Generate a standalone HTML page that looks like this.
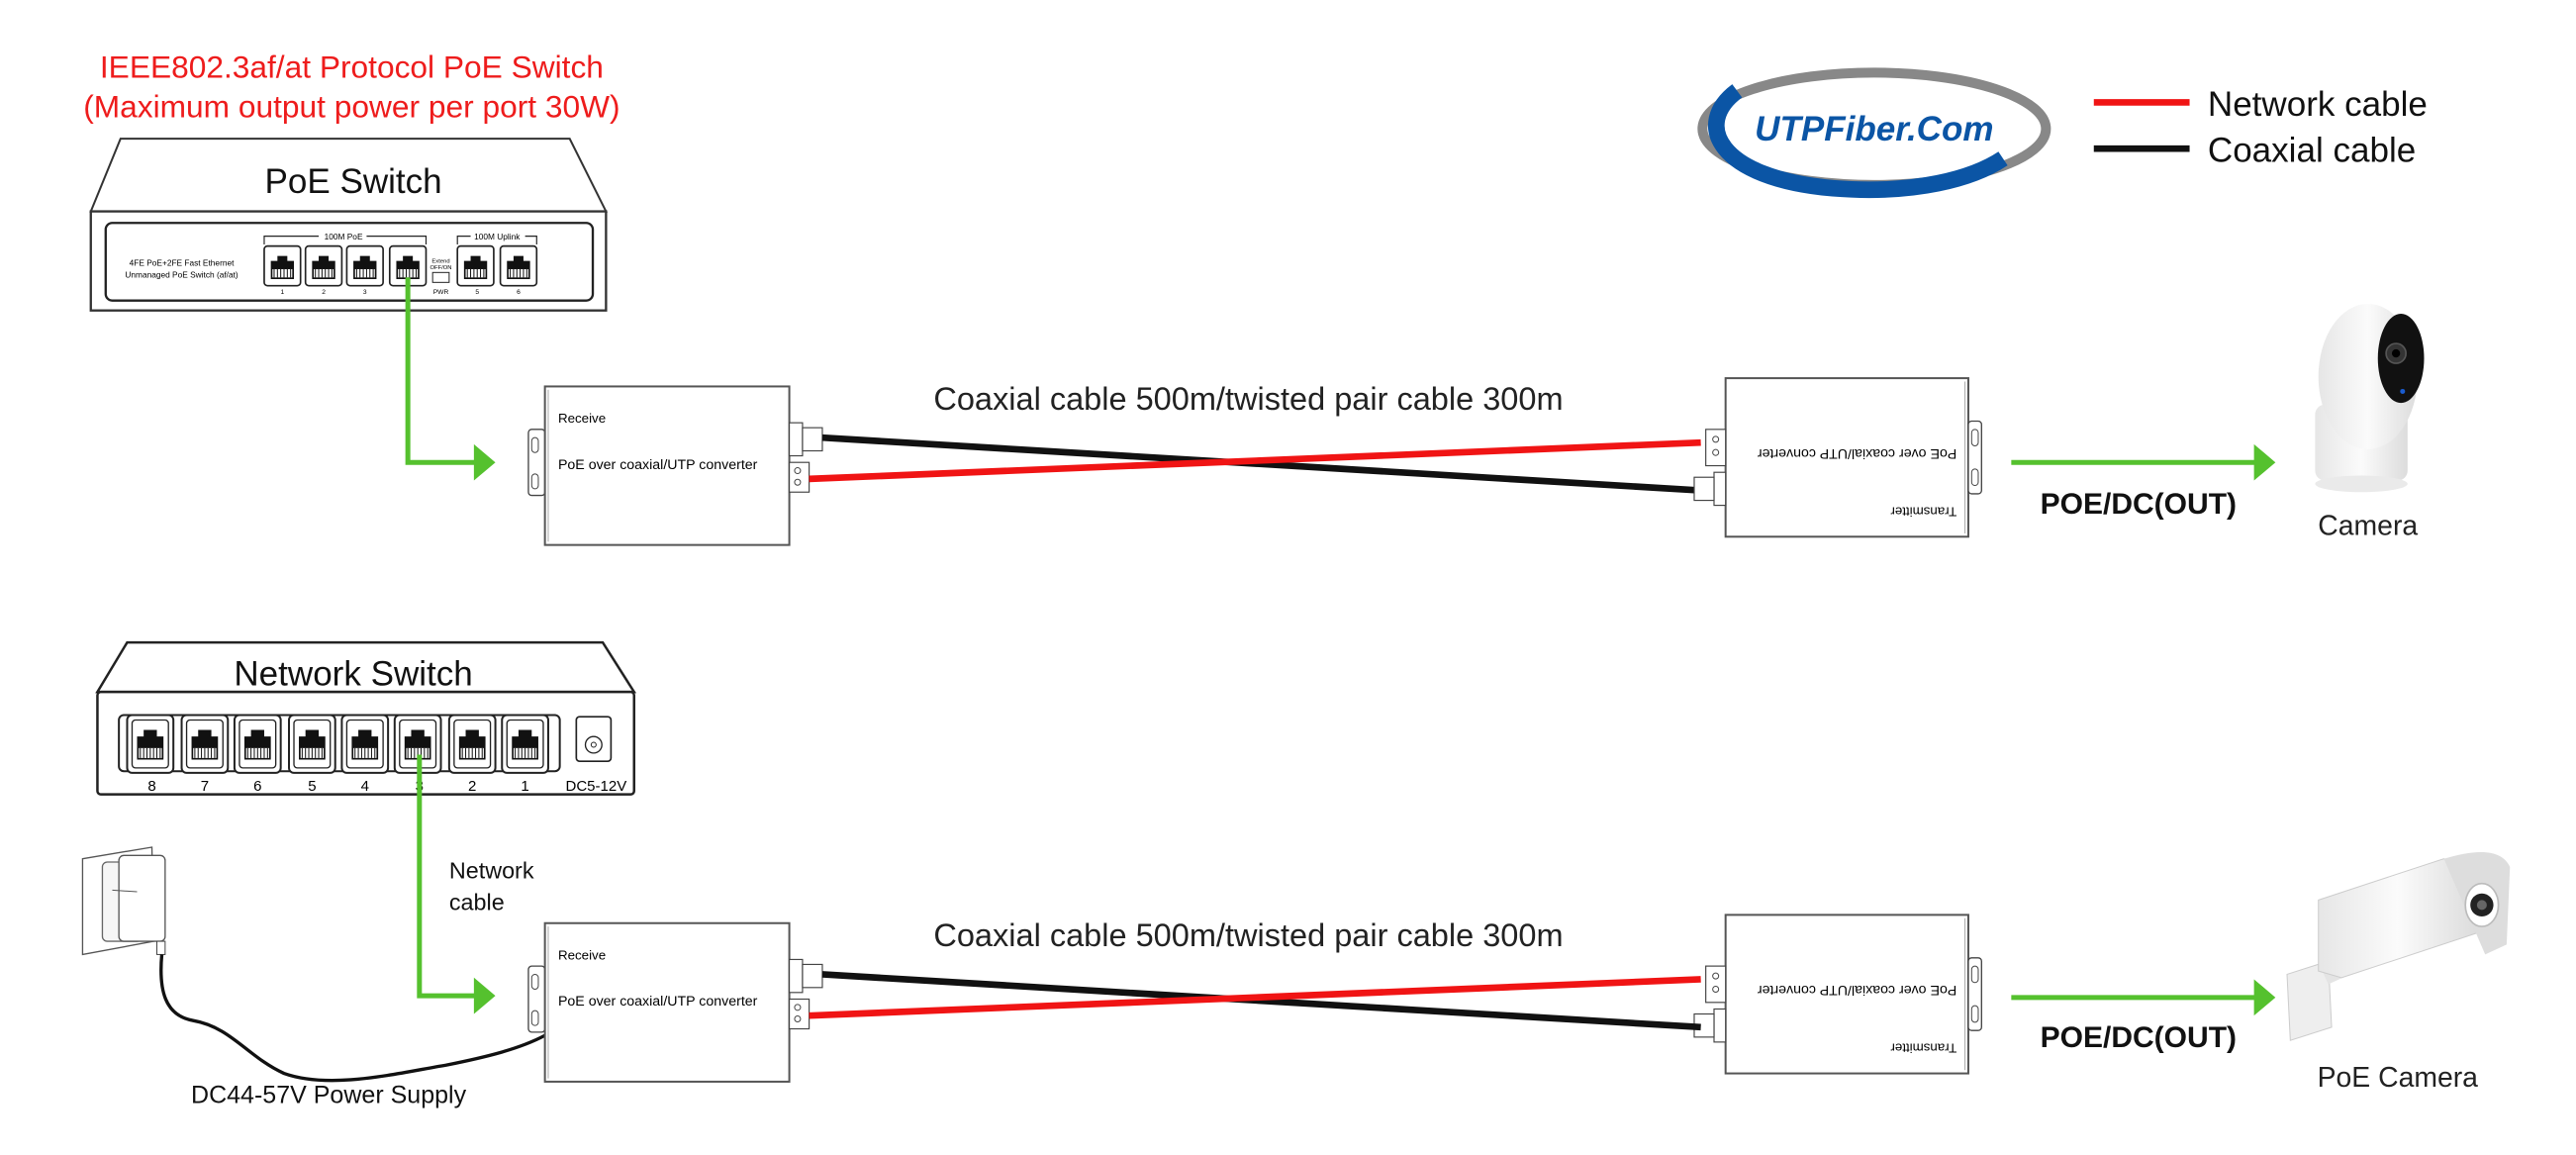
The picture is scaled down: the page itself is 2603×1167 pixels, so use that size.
<!DOCTYPE html>
<html><head><meta charset="utf-8"><style>
html,body{margin:0;padding:0;background:#fff;}
svg{display:block;}
text{font-family:"Liberation Sans",sans-serif;}
</style></head><body>
<svg width="2603" height="1167" viewBox="0 0 1560 699.4" preserveAspectRatio="none" xmlns="http://www.w3.org/2000/svg">
<defs>
<linearGradient id="cam" x1="0" x2="1"><stop offset="0" stop-color="#e6e6e6"/><stop offset="0.5" stop-color="#fbfbfb"/><stop offset="1" stop-color="#dcdcdc"/></linearGradient>
<g id="rj">
<rect x="0" y="0" width="22" height="24" rx="2" fill="#fff" stroke="#222" stroke-width="1"/>
<path d="M4,20 V9 H8 V6 H14 V9 H18 V20 Z" fill="#111"/>
<rect x="5" y="14" width="12" height="5" fill="#fff"/>
<path d="M6,14v5M8,14v5M10,14v5M12,14v5M14,14v5M16,14v5" stroke="#111" stroke-width="0.6"/>
</g>
<g id="rj2">
<rect x="0" y="0" width="28" height="35" rx="3" fill="#fff" stroke="#222" stroke-width="1.2"/>
<rect x="3" y="3" width="22" height="29" rx="2" fill="none" stroke="#222" stroke-width="0.8"/>
<path d="M6,27 V13 H10 V9 H18 V13 H22 V27 Z" fill="#111"/>
<rect x="7" y="20" width="14" height="6" fill="#fff"/>
<path d="M8,20v6M10,20v6M12,20v6M14,20v6M16,20v6M18,20v6M20,20v6" stroke="#111" stroke-width="0.6"/>
</g>
</defs>

<!-- Title -->
<text x="213" y="47" font-size="19" fill="#ee1c1c" text-anchor="middle">IEEE802.3af/at Protocol PoE Switch</text>
<text x="213" y="71" font-size="19" fill="#ee1c1c" text-anchor="middle">(Maximum output power per port 30W)</text>

<!-- PoE switch -->
<polygon points="73,84 345,84 367,128 55,128" fill="#fff" stroke="#333" stroke-width="1.2"/>
<rect x="55" y="128" width="312" height="60" fill="#fff" stroke="#333" stroke-width="1.4"/>
<text x="214" y="117" font-size="21" text-anchor="middle" fill="#111">PoE Switch</text>
<rect x="64" y="135" width="295" height="47" rx="4" fill="#fff" stroke="#222" stroke-width="1.4"/>
<text x="110" y="161" font-size="5" text-anchor="middle">4FE PoE+2FE Fast Ethernet</text>
<text x="110" y="168" font-size="5" text-anchor="middle">Unmanaged PoE Switch (af/at)</text>
<path d="M160,148 V143 H193 M222,143 H258 V148" stroke="#222" fill="none" stroke-width="0.7"/>
<text x="208" y="145" font-size="5" text-anchor="middle">100M PoE</text>
<path d="M277,148 V143 H285 M318,143 H325 V148" stroke="#222" fill="none" stroke-width="0.7"/>
<text x="301" y="145" font-size="5" text-anchor="middle">100M Uplink</text>
<use href="#rj" x="160" y="149"/><use href="#rj" x="185" y="149"/><use href="#rj" x="210" y="149"/><use href="#rj" x="236" y="149"/>
<use href="#rj" x="277" y="149"/><use href="#rj" x="303" y="149"/>
<text x="267" y="159" font-size="3.5" text-anchor="middle">Extend</text>
<text x="267" y="163" font-size="3.5" text-anchor="middle">OFF/ON</text>
<rect x="262" y="165" width="10" height="6" fill="#fff" stroke="#222" stroke-width="0.6"/>
<text x="267" y="178" font-size="4" text-anchor="middle">PWR</text>
<g font-size="4" text-anchor="middle"><text x="171" y="178">1</text><text x="196" y="178">2</text><text x="221" y="178">3</text><text x="289" y="178">5</text><text x="314" y="178">6</text></g>

<!-- green top -->
<polyline points="247,168 247,280 288,280" fill="none" stroke="#55c12e" stroke-width="3"/>
<polygon points="287,269 300,280 287,291" fill="#55c12e"/>

<!-- Receiver top -->
<g id="recv">
<rect x="320" y="260" width="10" height="40" rx="2" fill="#fff" stroke="#444" stroke-width="0.8"/>
<rect x="322" y="265" width="4" height="9" rx="2" fill="none" stroke="#444" stroke-width="0.6"/>
<rect x="322" y="287" width="4" height="9" rx="2" fill="none" stroke="#444" stroke-width="0.6"/>
<rect x="330" y="234" width="148" height="96" fill="#fff" stroke="#555" stroke-width="1.2"/>
<line x1="332" y1="236" x2="332" y2="328" stroke="#999" stroke-width="0.5"/>
<text x="338" y="256" font-size="8">Receive</text>
<text x="338" y="284" font-size="8.5">PoE over coaxial/UTP converter</text>
<rect x="478" y="256" width="8" height="20" fill="#fff" stroke="#444" stroke-width="0.7"/>
<rect x="486" y="259" width="12" height="14" fill="#fff" stroke="#444" stroke-width="0.7"/>
<rect x="478" y="280" width="12" height="18" fill="#fff" stroke="#444" stroke-width="0.7"/>
<circle cx="483" cy="285" r="1.8" fill="none" stroke="#444" stroke-width="0.6"/>
<circle cx="483" cy="292" r="1.8" fill="none" stroke="#444" stroke-width="0.6"/>
</g>
<line x1="498" y1="265" x2="1030" y2="297" stroke="#111" stroke-width="4"/>
<line x1="490" y1="290" x2="1030" y2="268" stroke="#f01414" stroke-width="4"/>
<text x="756" y="248" font-size="19.5" text-anchor="middle" fill="#222">Coaxial cable 500m/twisted pair cable 300m</text>

<!-- Transmitter top -->
<g id="tx">
<rect x="1045" y="229" width="147" height="96" fill="#fff" stroke="#555" stroke-width="1.2"/>
<line x1="1190" y1="231" x2="1190" y2="323" stroke="#999" stroke-width="0.5"/>
<rect x="1192" y="255" width="8" height="44" rx="2" fill="#fff" stroke="#444" stroke-width="0.8"/>
<rect x="1194" y="260" width="4" height="10" rx="2" fill="none" stroke="#444" stroke-width="0.6"/>
<rect x="1194" y="284" width="4" height="10" rx="2" fill="none" stroke="#444" stroke-width="0.6"/>
<rect x="1033" y="260" width="12" height="22" fill="#fff" stroke="#444" stroke-width="0.7"/>
<circle cx="1039" cy="266" r="1.8" fill="none" stroke="#444" stroke-width="0.6"/>
<circle cx="1039" cy="274" r="1.8" fill="none" stroke="#444" stroke-width="0.6"/>
<rect x="1038" y="286" width="7" height="20" fill="#fff" stroke="#444" stroke-width="0.7"/>
<rect x="1026" y="289" width="12" height="14" fill="#fff" stroke="#444" stroke-width="0.7"/>
<text transform="translate(1185,272) rotate(180)" font-size="8.5">PoE over coaxial/UTP converter</text>
<text transform="translate(1185,307) rotate(180)" font-size="8">Transmitter</text>
</g>
<line x1="1218" y1="280" x2="1366" y2="280" stroke="#55c12e" stroke-width="3"/>
<polygon points="1365,269 1378,280 1365,291" fill="#55c12e"/>
<text x="1295" y="311" font-size="18" font-weight="bold" text-anchor="middle" fill="#111">POE/DC(OUT)</text>

<!-- Camera -->
<rect x="1402" y="245" width="56" height="46" rx="6" fill="url(#cam)"/>
<ellipse cx="1430" cy="293" rx="28" ry="5" fill="#eaeaea"/>
<ellipse cx="1434" cy="228" rx="30" ry="44" fill="url(#cam)"/>
<ellipse cx="1454" cy="217" rx="14" ry="27" fill="#111"/>
<circle cx="1451" cy="214" r="6" fill="#333" stroke="#555"/>
<circle cx="1451" cy="214" r="2.5" fill="#000"/>
<circle cx="1455" cy="237" r="1.5" fill="#1a5cd0"/>
<text x="1434" y="324" font-size="17" text-anchor="middle" fill="#222">Camera</text>

<!-- Logo -->
<ellipse cx="1135" cy="78" rx="104" ry="34" fill="none" stroke="#888" stroke-width="6"/>
<path d="M1052,55 C1025,75 1040,108 1110,114 C1160,118 1195,108 1213,96" fill="none" stroke="#0b55a5" stroke-width="10"/>
<text x="1135" y="85" font-size="21" font-weight="bold" font-style="italic" fill="#0b55a5" text-anchor="middle">UTPFiber.Com</text>

<!-- Legend -->
<line x1="1268" y1="62" x2="1326" y2="62" stroke="#f01414" stroke-width="4"/>
<line x1="1268" y1="90" x2="1326" y2="90" stroke="#111" stroke-width="4"/>
<text x="1337" y="70" font-size="21" fill="#111">Network cable</text>
<text x="1337" y="98" font-size="21" fill="#111">Coaxial cable</text>

<!-- Network switch -->
<polygon points="77,389 365,389 384,419 59,419" fill="#fff" stroke="#222" stroke-width="1.5"/>
<rect x="59" y="419" width="325" height="62" rx="2" fill="#fff" stroke="#222" stroke-width="1.5"/>
<text x="214" y="415" font-size="21" text-anchor="middle" fill="#111">Network Switch</text>
<rect x="72" y="433" width="267" height="34" rx="3" fill="#fff" stroke="#222" stroke-width="1.2"/>
<use href="#rj2" x="77" y="433"/><use href="#rj2" x="110" y="433"/><use href="#rj2" x="142" y="433"/><use href="#rj2" x="175" y="433"/>
<use href="#rj2" x="207" y="433"/><use href="#rj2" x="239" y="433"/><use href="#rj2" x="272" y="433"/><use href="#rj2" x="304" y="433"/>
<rect x="349" y="434" width="21" height="27" rx="2" fill="#fff" stroke="#222" stroke-width="1"/>
<circle cx="359.5" cy="451" r="5" fill="none" stroke="#222" stroke-width="0.8"/>
<circle cx="359.5" cy="451" r="1.5" fill="none" stroke="#222" stroke-width="0.6"/>
<g font-size="9" text-anchor="middle"><text x="92" y="479">8</text><text x="124" y="479">7</text><text x="156" y="479">6</text><text x="189" y="479">5</text><text x="221" y="479">4</text><text x="254" y="479">3</text><text x="286" y="479">2</text><text x="318" y="479">1</text><text x="361" y="479">DC5-12V</text></g>

<polyline points="254,457 254,603 288,603" fill="none" stroke="#55c12e" stroke-width="3"/>
<polygon points="287,592 300,603 287,614" fill="#55c12e"/>
<text x="272" y="532" font-size="14" fill="#111">Network</text>
<text x="272" y="551" font-size="14" fill="#111">cable</text>

<!-- power adapter -->
<polygon points="50,520 92,513 93,570 50,578" fill="#fff" stroke="#555" stroke-width="0.8"/>
<rect x="62" y="522" width="24" height="48" rx="3" fill="#f6f6f6" stroke="#666" stroke-width="0.8"/>
<rect x="72" y="518" width="28" height="52" rx="3" fill="#fff" stroke="#555" stroke-width="0.8"/>
<line x1="68" y1="539" x2="83" y2="540" stroke="#555" stroke-width="0.6"/>
<rect x="95" y="570" width="5" height="8" fill="#fff" stroke="#444" stroke-width="0.6"/>
<path d="M98,578 C96,600 100,615 117,618 C140,622 150,640 172,650 C200,660 240,650 270,645 C295,640 315,635 330,627" fill="none" stroke="#111" stroke-width="2"/>
<text x="199" y="668" font-size="15" text-anchor="middle" fill="#111">DC44-57V Power Supply</text>

<!-- bottom receiver/transmitter -->
<use href="#recv" x="0" y="325"/>
<use href="#tx" x="0" y="325"/>
<line x1="498" y1="590" x2="1030" y2="622" stroke="#111" stroke-width="4"/>
<line x1="490" y1="615" x2="1030" y2="593" stroke="#f01414" stroke-width="4"/>
<text x="756" y="573" font-size="19.5" text-anchor="middle" fill="#222">Coaxial cable 500m/twisted pair cable 300m</text>
<line x1="1218" y1="604" x2="1366" y2="604" stroke="#55c12e" stroke-width="3"/>
<polygon points="1365,593 1378,604 1365,615" fill="#55c12e"/>
<text x="1295" y="634" font-size="18" font-weight="bold" text-anchor="middle" fill="#111">POE/DC(OUT)</text>

<!-- PoE camera -->
<polygon points="1385,590 1410,582 1412,622 1387,630" fill="#eee" stroke="#ccc" stroke-width="0.6"/>
<polygon points="1405,585 1440,570 1445,580 1410,596" fill="#e4e4e4"/>
<polygon points="1404,545 1480,520 1500,528 1500,565 1418,592 1404,588" fill="url(#cam)" stroke="#ccc" stroke-width="0.6"/>
<path d="M1480,520 C1500,514 1515,514 1520,525 L1518,572 L1505,578 Z" fill="#ddd"/>
<ellipse cx="1503" cy="548" rx="10" ry="13" fill="#fff" stroke="#bbb"/>
<circle cx="1503" cy="548" r="7" fill="#222"/>
<circle cx="1503" cy="548" r="3" fill="#666"/>
<text x="1452" y="658" font-size="17" text-anchor="middle" fill="#222">PoE Camera</text>
</svg>
</body></html>
